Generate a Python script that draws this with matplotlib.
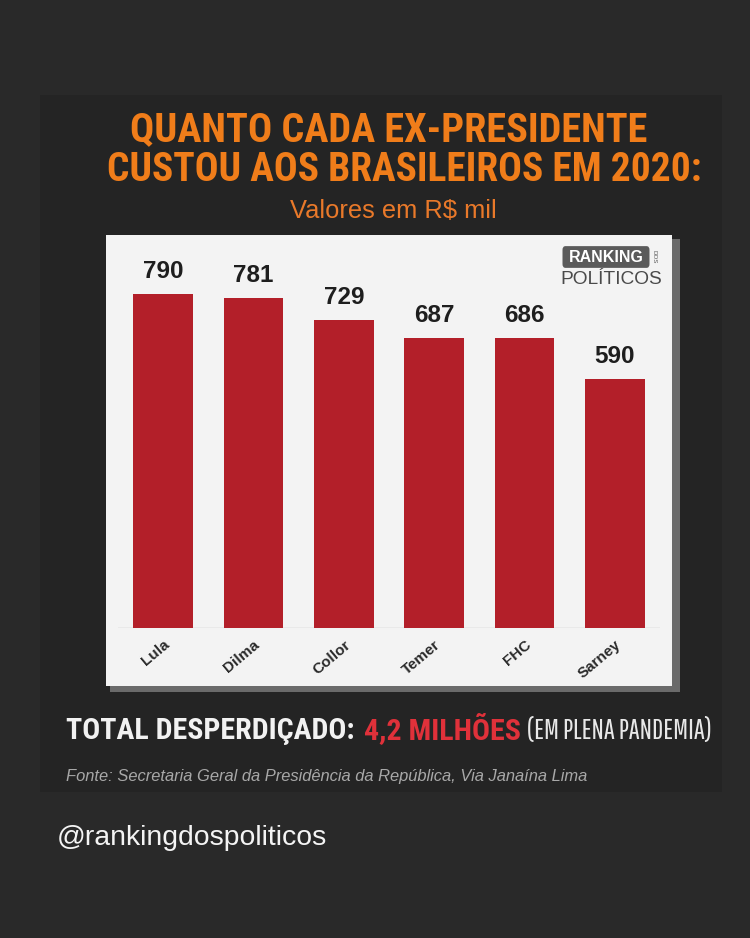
import matplotlib
matplotlib.use('Agg')
from matplotlib import pyplot as plt
from matplotlib.patches import Rectangle, FancyBboxPatch
from matplotlib import font_manager

# data (R$ mil)
presidentes = ['Lula', 'Dilma', 'Collor', 'Temer', 'FHC', 'Sarney']
valores = [790, 781, 729, 687, 686, 590]

W, H = 750, 938
installed = {f.name for f in font_manager.fontManager.ttflist}

def pick(*names):
    for n in names:
        if n in installed:
            return n
    return 'Liberation Sans'

narrow = pick('Roboto Condensed', 'Archivo Narrow', 'Liberation Sans Narrow', 'Arimo')
thin = pick('Saira Extra Condensed', 'Pathway Gothic One', 'League Gothic', 'Antonio',
            'Bebas Neue', 'Oswald', 'Roboto Condensed')
arial = pick('Liberation Sans', 'Arimo')

fig = plt.figure(figsize=(7.5, 9.38), dpi=100, facecolor='#292929')
fig.canvas.draw()
renderer = fig.canvas.get_renderer()

def fx(px):
    return px / W

def fy(py):
    return 1 - py / H

def width_px(t):
    return t.get_window_extent(renderer=renderer).width

def fit(t, w):
    # shrink/grow text so that it spans w pixels
    t.set_fontsize(t.get_fontsize() * w / width_px(t))
    return t

# inner darker panel
fig.patches.append(Rectangle((fx(40), fy(792)), fx(682), 697 / H, transform=fig.transFigure,
                             facecolor='#242424', edgecolor='none', zorder=0))
# card shadow and white card
fig.patches.append(Rectangle((fx(110), fy(692)), fx(570), 453 / H, transform=fig.transFigure,
                             facecolor='#6a6a6a', edgecolor='none', zorder=1))
fig.patches.append(Rectangle((fx(106), fy(686)), fx(566), 451 / H, transform=fig.transFigure,
                             facecolor='#f3f3f3', edgecolor='none', zorder=2))

# titles
laranja = '#f07d1a'
t1 = fig.text(fx(389), fy(130), 'QUANTO CADA EX-PRESIDENTE', color=laranja, fontsize=26,
              fontweight='bold', family=narrow, ha='center', va='center')
fit(t1, 518)
t2 = fig.text(fx(404), fy(170), 'CUSTOU AOS BRASILEIROS EM 2020:', color=laranja, fontsize=26,
              fontweight='bold', family=narrow, ha='center', va='center')
fit(t2, 597)
t3 = fig.text(fx(393), fy(211), 'Valores em R$ mil', color='#e9792a', fontsize=15,
              ha='center', va='center', family=arial)
fit(t3, 207)

# bar chart
ax = fig.add_axes([fx(118), fy(628), fx(542), 380 / H], zorder=3)
ax.set_facecolor('none')
ax.bar(range(len(valores)), valores, width=0.66, color='#b31f29', zorder=2)
ax.axhline(0, color='#c4c4c4', linewidth=1, zorder=1)
ax.set_xlim(-0.5, len(valores) - 0.5)
ax.set_ylim(0, 900)
for i, v in enumerate(valores):
    ax.text(i, v + 38, str(v), ha='center', va='baseline', fontsize=17.5,
            fontweight='bold', color='#1e1e1e', family=arial)
ax.set_xticks(range(len(presidentes)))
ax.set_xticklabels(presidentes, rotation=40, ha='right', rotation_mode='anchor',
                   fontsize=11, fontweight='bold', color='#2a2a2a', family=arial)
ax.tick_params(axis='x', length=0, pad=7)
ax.set_yticks([])
for s in ax.spines.values():
    s.set_visible(False)

# logo
fig.patches.append(FancyBboxPatch((fx(564), fy(266)), fx(84), 18 / H,
                                  boxstyle='round,pad=0.002,rounding_size=0.004',
                                  transform=fig.transFigure, facecolor='#5a5a5a',
                                  edgecolor='none', zorder=4))
fig.text(fx(606), fy(257), 'RANKING', color='white', fontsize=11.5, fontweight='bold',
         ha='center', va='center', family=arial, zorder=5)
fig.text(fx(654), fy(257), 'DOS', color='#555555', fontsize=4.5, rotation=-90,
         ha='center', va='center', family=arial, zorder=5)
lg = fig.text(fx(611), fy(279), 'POLÍTICOS', color='#4a4a4a', fontsize=14,
              ha='center', va='center', family=arial, zorder=5)
fit(lg, 102)

# total line, pieces placed one after another on a common baseline
x = 66
base = fy(739)
tot = fig.text(fx(x), base, 'TOTAL DESPERDIÇADO:', color='#f2f2f2', fontsize=21.5,
               fontweight='bold', family=narrow, ha='left', va='baseline')
x += width_px(tot) + 9
mil = fig.text(fx(x), base, '4,2 MILHÕES', color='#e0313a', fontsize=21.5,
               fontweight='bold', family=narrow, ha='left', va='baseline')
x += width_px(mil) + 7
pan = fig.text(fx(x), base, '(EM PLENA PANDEMIA)', color='#e8e8e8', fontsize=21.5,
               fontweight='light', family=thin, ha='left', va='baseline')
if x + width_px(pan) > 712:
    fit(pan, 712 - x)

f1 = fig.text(fx(66), fy(776), 'Fonte: Secretaria Geral da Presidência da República, Via Janaína Lima',
              color='#a8a8a8', fontsize=11, style='italic', ha='left', va='center',
              family=arial)
fit(f1, 524)
f2 = fig.text(fx(57), fy(838), '@rankingdospoliticos', color='#f4f4f4', fontsize=19,
              ha='left', va='center', family=arial)
fit(f2, 271)

fig.savefig('out.png', dpi=100, facecolor=fig.get_facecolor())
